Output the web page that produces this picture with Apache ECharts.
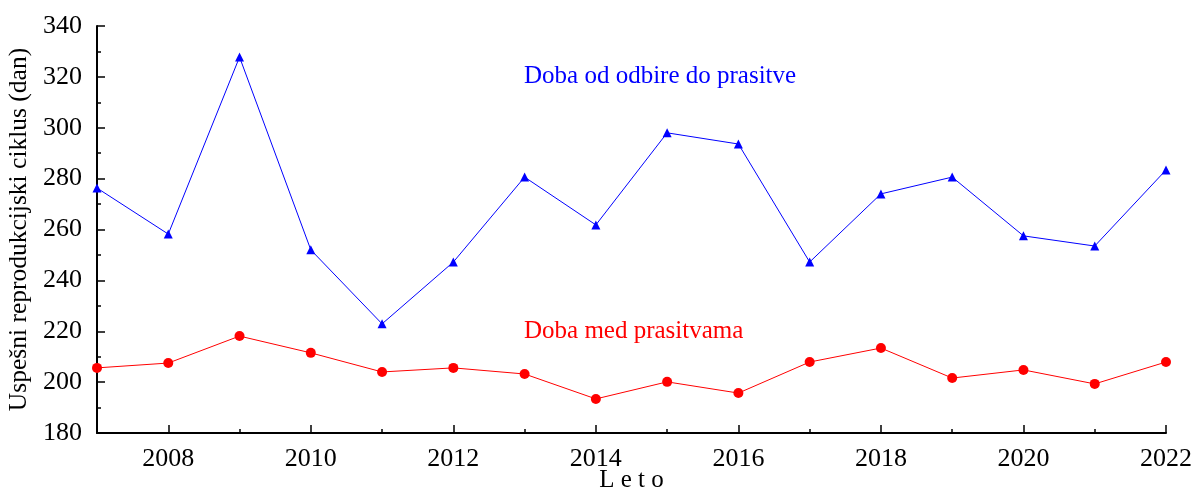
<!DOCTYPE html>
<html lang="sl">
<head>
  <meta charset="UTF-8">
  <title>Uspešni reprodukcijski ciklus</title>
  <script src="https://cdn.jsdelivr.net/npm/echarts@6/dist/echarts.min.js"></script>
  <style>
    body { margin: 0; background: #fff; }
    #chart { width: 1196px; height: 491px; }
  </style>
</head>
<body>
  <div id="chart"></div>
  <script>
    var years = [2007, 2008, 2009, 2010, 2011, 2012, 2013, 2014, 2015, 2016, 2017, 2018, 2019, 2020, 2021, 2022];
    var odbiraPrasitev = [276.3, 258.2, 327.8, 252, 222.9, 247.2, 280.6, 261.8, 298, 293.6, 247.2, 274, 280.6, 257.5, 253.5, 283.4];
    var medPrasitvama = [205.6, 207.5, 218.1, 211.5, 204, 205.6, 203.2, 193.4, 200.1, 195.7, 207.9, 213.4, 201.6, 204.8, 199.3, 207.9];
    var evenYears = [2008, 2010, 2012, 2014, 2016, 2018, 2020, 2022];

    var font = '"Liberation Serif", "DejaVu Serif", serif';

    function pairs(vals) {
      return years.map(function (y, i) { return [y, vals[i]]; });
    }

    var chart = echarts.init(document.getElementById('chart'));
    chart.setOption({
      animation: false,
      grid: { left: 97, right: 30, top: 26, bottom: 58, outerBoundsMode: 'none' },
      xAxis: [{
        type: 'value',
        min: 2007, max: 2022, interval: 1,
        name: 'L e t o',
        nameLocation: 'middle',
        nameGap: 35,
        nameTextStyle: { fontFamily: font, fontSize: 25, color: '#000' },
        axisLine: { lineStyle: { color: '#000', width: 2 } },
        axisTick: { inside: true, length: 4, lineStyle: { color: '#000', width: 1.5 } },
        axisLabel: { show: false },
        splitLine: { show: false }
      }, {
        type: 'value',
        position: 'bottom',
        min: 2007, max: 2022, interval: 1,
        axisLine: { show: false },
        axisTick: { inside: true, length: 8, customValues: evenYears, lineStyle: { color: '#000', width: 1.5 } },
        axisLabel: {
          customValues: evenYears, margin: 13,
          formatter: function (v) { return String(v); },
          fontFamily: font, fontSize: 26, color: '#000'
        },
        splitLine: { show: false }
      }],
      yAxis: {
        type: 'value',
        min: 180, max: 340, interval: 20,
        name: 'Uspešni reprodukcijski ciklus (dan)',
        nameLocation: 'middle',
        nameGap: 55,
        nameTextStyle: { fontFamily: font, fontSize: 25.5, color: '#000' },
        axisLine: { show: true, lineStyle: { color: '#000', width: 2 } },
        axisTick: { show: true, inside: true, length: 8, lineStyle: { color: '#000', width: 1.5 } },
        minorTick: { show: true, splitNumber: 2, length: 4, lineStyle: { color: '#000', width: 1.5 } },
        axisLabel: { margin: 15, fontFamily: font, fontSize: 26, color: '#000' },
        splitLine: { show: false }
      },
      series: [{
        name: 'Doba od odbire do prasitve',
        type: 'line',
        data: pairs(odbiraPrasitev),
        symbol: 'triangle',
        symbolSize: 9,
        itemStyle: { color: '#0000ff' },
        lineStyle: { color: '#0000ff', width: 1 }
      }, {
        name: 'Doba med prasitvama',
        type: 'line',
        data: pairs(medPrasitvama),
        symbol: 'circle',
        symbolSize: 10,
        itemStyle: { color: '#ff0000' },
        lineStyle: { color: '#ff0000', width: 1 }
      }],
      graphic: [{
        type: 'text', left: 524, top: 64,
        style: { text: 'Doba od odbire do prasitve', fontFamily: font, fontSize: 25, fill: '#0000ff' }
      }, {
        type: 'text', left: 524, top: 319,
        style: { text: 'Doba med prasitvama', fontFamily: font, fontSize: 25, fill: '#ff0000' }
      }]
    });
  </script>
</body>
</html>
